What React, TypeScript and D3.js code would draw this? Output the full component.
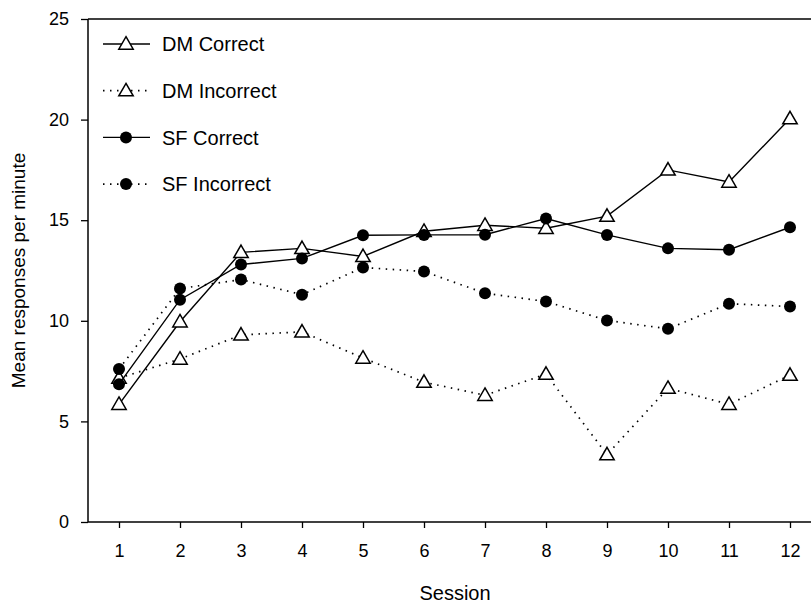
import * as d3 from "d3";
import { useEffect, useRef } from "react";

const sessions = [1, 2, 3, 4, 5, 6, 7, 8, 9, 10, 11, 12];
const dmCorrect = [5.85, 9.95, 13.4, 13.6, 13.2, 14.45, 14.75, 14.6, 15.2, 17.5, 16.9, 20.05];
const dmIncorrect = [7.15, 8.1, 9.3, 9.45, 8.15, 6.95, 6.3, 7.35, 3.35, 6.65, 5.85, 7.3];
const sfCorrect = [6.85, 11.05, 12.8, 13.1, 14.25, 14.27, 14.28, 15.08, 14.27, 13.6, 13.53, 14.65];
const sfIncorrect = [7.6, 11.6, 12.05, 11.3, 12.65, 12.45, 11.37, 10.96, 10.02, 9.6, 10.85, 10.71];
const yTicks = [0, 5, 10, 15, 20, 25];

const seriesList = [
  { name: "DM Correct", values: dmCorrect, marker: "triangle", dotted: false },
  { name: "DM Incorrect", values: dmIncorrect, marker: "triangle", dotted: true },
  { name: "SF Correct", values: sfCorrect, marker: "circle", dotted: false },
  { name: "SF Incorrect", values: sfIncorrect, marker: "circle", dotted: true },
];

const W = 811;
const H = 607;
const FONT = "'Liberation Sans', Arial, Helvetica, sans-serif";

const App = () => {
  const ref = useRef<SVGSVGElement>(null);

  useEffect(() => {
    const svg = d3.select(ref.current);
    svg.selectAll("*").remove();

    const left = 88,
      top = 19,
      bottom = 522;

    const x = d3.scaleLinear().domain([1, 12]).range([119, 790]);
    const y = d3.scaleLinear().domain([0, 25]).range([bottom, top]);

    const tri = d3.symbol().type(d3.symbolTriangle).size(90);

    const drawMarker = (g, marker, cx, cy) => {
      if (marker === "triangle") {
        g.append("path")
          .attr("d", tri())
          .attr("transform", `translate(${cx},${cy + 1})`)
          .attr("fill", "white")
          .attr("stroke", "black")
          .attr("stroke-width", 1.5);
      } else {
        g.append("circle")
          .attr("cx", cx)
          .attr("cy", cy)
          .attr("r", 6)
          .attr("fill", "black");
      }
    };

    // frame lines
    svg.append("line").attr("x1", left).attr("x2", W).attr("y1", top).attr("y2", top)
      .attr("stroke", "black").attr("stroke-width", 1.5);
    svg.append("line").attr("x1", left).attr("x2", W).attr("y1", bottom).attr("y2", bottom)
      .attr("stroke", "black").attr("stroke-width", 1.5);
    svg.append("line").attr("x1", left).attr("x2", left).attr("y1", top).attr("y2", bottom)
      .attr("stroke", "black").attr("stroke-width", 1.5);

    // axes
    const yAxis = svg
      .append("g")
      .attr("transform", `translate(${left},0)`)
      .call(d3.axisLeft(y).tickValues(yTicks).tickSize(7).tickPadding(12));
    yAxis.select(".domain").remove();
    yAxis.selectAll("line").attr("stroke-width", 1.3);
    yAxis.selectAll("text").style("font-family", FONT).style("font-size", "18px").attr("fill", "black");

    const xAxis = svg
      .append("g")
      .attr("transform", `translate(0,${bottom})`)
      .call(d3.axisBottom(x).tickValues(sessions).tickFormat(d3.format("d")).tickSize(6).tickPadding(16));
    xAxis.select(".domain").remove();
    xAxis.selectAll("line").attr("stroke-width", 1.3);
    xAxis.selectAll("text").style("font-family", FONT).style("font-size", "18px").attr("fill", "black");

    // axis titles
    svg.append("text")
      .attr("transform", `translate(25,${(top + bottom) / 2}) rotate(-90)`)
      .attr("text-anchor", "middle")
      .style("font-family", FONT).style("font-size", "19px")
      .text("Mean responses per minute");
    svg.append("text")
      .attr("x", 455).attr("y", 600)
      .attr("text-anchor", "middle")
      .style("font-family", FONT).style("font-size", "20px")
      .text("Session");

    const line = d3
      .line<number>()
      .x((d, i) => x(sessions[i]))
      .y((d) => y(d));

    // series lines + markers
    seriesList.forEach((s) => {
      const g = svg.append("g");
      g.append("path")
        .datum(s.values)
        .attr("d", line)
        .attr("fill", "none")
        .attr("stroke", "black")
        .attr("stroke-width", s.dotted ? 1.7 : 1.4)
        .attr("stroke-dasharray", s.dotted ? "1.5 5.5" : null);
      s.values.forEach((v, i) => drawMarker(g, s.marker, x(sessions[i]), y(v)));
    });

    // legend
    const legend = svg.append("g");
    seriesList.forEach((s, i) => {
      const ly = 44 + i * 46.7;
      legend.append("line")
        .attr("x1", 103).attr("x2", 150).attr("y1", ly).attr("y2", ly)
        .attr("stroke", "black")
        .attr("stroke-width", s.dotted ? 1.7 : 1.4)
        .attr("stroke-dasharray", s.dotted ? "1.5 5.5" : null);
      drawMarker(legend, s.marker, 126, ly);
      legend.append("text")
        .attr("x", 162).attr("y", ly)
        .attr("dy", "0.36em")
        .style("font-family", FONT).style("font-size", "20px")
        .text(s.name);
    });
  });

  return (
    <svg
      ref={ref}
      width={W}
      height={H}
      style={{ position: "absolute", left: 0, top: 0, background: "white" }}
    />
  );
};

export default App;
